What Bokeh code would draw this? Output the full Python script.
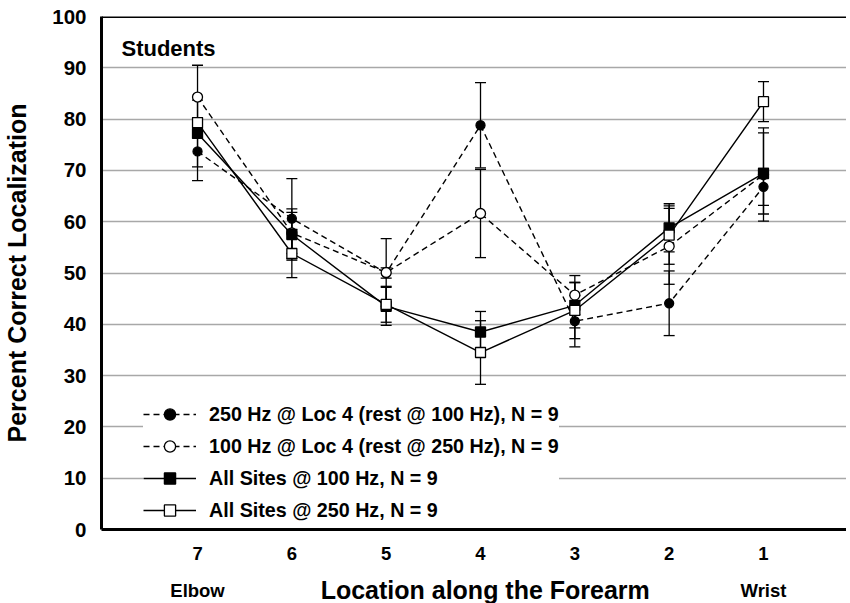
from bokeh.plotting import figure
from bokeh.layouts import column
from bokeh.models import (Range1d, FixedTicker, Span, Label, Legend, LegendItem,
                          ColumnDataSource, Whisker, TeeHead)
from bokeh.core.properties import value
from bokeh.embed import file_html
from bokeh.resources import INLINE

# ---------------- data ----------------
locations = [7, 6, 5, 4, 3, 2, 1]
tick_labels = ["7", "6", "5", "4", "3", "2", "1"]
y_ticks = [0, 10, 20, 30, 40, 50, 60, 70, 80, 90, 100]
end_labels = ["Elbow", "Wrist"]
end_positions = [7, 1]

hz250_loc4 = [73.7, 60.6, 50.0, 78.8, 40.6, 44.1, 66.8]
hz250_loc4_err = [5.7, 7.8, 1.0, 8.3, 5.0, 6.3, 3.6]
hz100_loc4 = [84.3, 57.8, 50.1, 61.6, 45.7, 55.2, 69.2]
hz100_loc4_err = [6.2, 4.0, 6.6, 8.6, 3.8, 7.4, 9.1]
all_100 = [77.2, 57.5, 43.5, 38.5, 43.7, 58.8, 69.4]
all_100_err = [6.5, 5.0, 3.7, 4.0, 4.4, 4.7, 7.9]
all_250 = [79.3, 53.8, 43.9, 34.5, 42.7, 57.4, 83.4]
all_250_err = [1.0, 4.7, 3.5, 6.2, 5.5, 5.7, 3.9]

labels = ["250 Hz @ Loc 4 (rest @ 100 Hz), N = 9",
          "100 Hz @ Loc 4 (rest @ 250 Hz), N = 9",
          "All Sites @ 100 Hz, N = 9",
          "All Sites @ 250 Hz, N = 9"]

FONT = "Liberation Sans"
W = 846
LEFT = 101
TOP = 16
FRAME_H = 513
MAIN_H = 563
BOTTOM_H = 40

xr = Range1d(8.018, 0.120)

p = figure(width=W, height=MAIN_H, output_backend="svg", toolbar_location=None,
           x_range=xr, y_range=Range1d(0, 100),
           min_border_left=LEFT, min_border_right=0, min_border_top=TOP,
           min_border_bottom=MAIN_H - TOP - FRAME_H)
p.outline_line_color = None
p.background_fill_color = "white"
p.border_fill_color = "white"

# grid
p.xgrid.visible = False
p.ygrid.ticker = FixedTicker(ticks=y_ticks)
p.ygrid.grid_line_color = "#a8a8a8"
p.ygrid.grid_line_width = 1.6

# axes
p.yaxis.ticker = FixedTicker(ticks=y_ticks)
p.xaxis.ticker = FixedTicker(ticks=locations)
p.xaxis.major_label_overrides = {l: t for l, t in zip(locations, tick_labels)}
for ax in (p.xaxis, p.yaxis):
    ax.axis_line_color = "black"
    ax.axis_line_width = 3
    ax.major_tick_line_color = None
    ax.minor_tick_line_color = None
    ax.major_label_text_font = FONT
    ax.major_label_text_font_style = "bold"
    ax.major_label_text_color = "black"
p.yaxis.major_label_text_font_size = "20.5px"
p.xaxis.major_label_text_font_size = "18.5px"
p.yaxis.major_label_standoff = 9
p.xaxis.major_label_standoff = 11
p.yaxis.axis_label = "Percent Correct Localization"
p.yaxis.axis_label_text_font = FONT
p.yaxis.axis_label_text_font_style = "bold"
p.yaxis.axis_label_text_font_size = "25px"
p.yaxis.axis_label_text_color = "black"
p.yaxis.axis_label_standoff = 18

p.add_layout(Span(location=100, dimension="width", line_color="black", line_width=3))

# series
series = [
    (hz250_loc4, hz250_loc4_err, "circle", "black", "6 4", 9),
    (hz100_loc4, hz100_loc4_err, "circle", "white", "6 4", 10),
    (all_100, all_100_err, "square", "black", "solid", 10),
    (all_250, all_250_err, "square", "white", "solid", 10),
]

for vals, errs, *_ in series:
    src = ColumnDataSource(dict(x=locations,
                                upper=[v + e for v, e in zip(vals, errs)],
                                lower=[v - e for v, e in zip(vals, errs)]))
    w = Whisker(base="x", upper="upper", lower="lower", source=src,
                line_color="black", line_width=1.3,
                upper_head=TeeHead(size=11, line_color="black", line_width=1.3),
                lower_head=TeeHead(size=11, line_color="black", line_width=1.3))
    p.add_layout(w)

line_rs = []
for vals, errs, marker, fill, dash, size in series:
    lr = p.line(locations, vals, line_color="black", line_width=1.4, line_dash=dash)
    line_rs.append(lr)

items = []
for (vals, errs, marker, fill, dash, size), lr, lab in zip(series, line_rs, labels):
    sr = p.scatter(locations, vals, marker=marker, size=size, fill_color=fill,
                   line_color="black", line_width=1.3)
    items.append(LegendItem(label=lab, renderers=[lr, sr]))

legend = Legend(items=items, location=(42, 5))
legend.margin = 0
legend.padding = 7
legend.spacing = 4
legend.glyph_width = 53
legend.glyph_height = 28
legend.label_height = 28
legend.label_standoff = 13
legend.label_text_font = FONT
legend.label_text_font_style = "bold"
legend.label_text_font_size = "19.7px"
legend.label_text_color = "black"
legend.border_line_color = None
legend.background_fill_color = "white"
legend.background_fill_alpha = 1.0
p.add_layout(legend)

p.add_layout(Label(x=7.806, y=93.8, text="Students", text_font=FONT,
                   text_font_style="bold", text_font_size="22px",
                   text_align="left", text_baseline="middle", text_color="black"))

# bottom strip with Elbow / title / Wrist
b = figure(width=W, height=BOTTOM_H, output_backend="svg", toolbar_location=None,
           x_range=xr, y_range=Range1d(0, BOTTOM_H),
           min_border_left=LEFT, min_border_right=0, min_border_top=0,
           min_border_bottom=0)
b.axis.visible = False
b.grid.visible = False
b.outline_line_color = None
b.text(x=end_positions, y=[13, 13], text=end_labels, text_font=value(FONT),
       text_font_style="bold", text_font_size="18.5px", text_align="center",
       text_baseline="alphabetic", text_color="black")
b.text(x=[3.95], y=[14], text=["Location along the Forearm"], text_font=value(FONT),
       text_font_style="bold", text_font_size="25px", text_align="center",
       text_baseline="alphabetic", text_color="black")

layout = column(p, b, spacing=0)
open("out.html", "w").write(file_html(layout, INLINE))
